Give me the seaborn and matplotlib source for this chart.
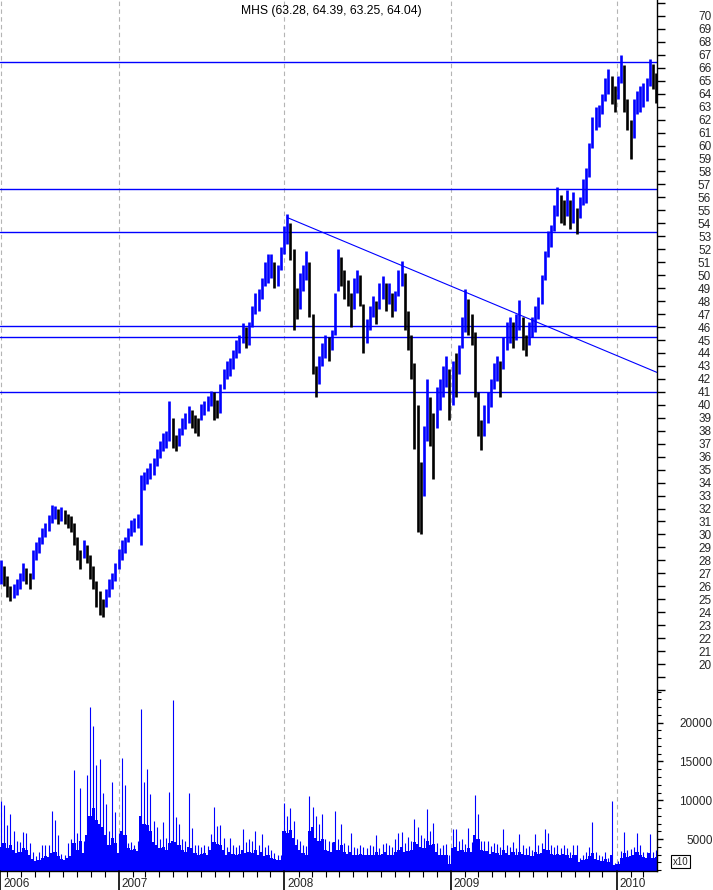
import numpy as np
import pandas as pd
import matplotlib
matplotlib.use("Agg")
import matplotlib.pyplot as plt
import matplotlib.dates as mdates
import matplotlib.ticker as mticker
import matplotlib.transforms as mtransforms
import seaborn as sns

# ---- data (weekly bars) ----
ticker = "MHS"
last_ohlc = [63.28, 64.39, 63.25, 64.04]
first_week = "2006-04-17"

closes = [
    27.5, 26.6, 25.8, 25.3, 25.6, 26.0, 26.4, 27.2, 26.8, 26.3,
    28.3, 28.9, 29.4, 30.0, 30.4, 31.0, 31.6, 31.9, 31.2, 31.6,
    31.4, 31.0, 30.8, 29.8, 28.6, 28.0, 29.0, 28.6, 27.2, 26.2,
    25.0, 24.4, 24.2, 25.2, 25.9, 26.4, 27.2, 28.4, 28.8, 29.3,
    30.0, 30.6, 30.8, 31.2, 33.8, 34.2, 34.6, 35.0, 35.3, 36.0,
    36.6, 37.2, 37.4, 39.6, 37.2, 37.0, 37.6, 38.4, 38.8, 39.2,
    38.8, 38.6, 38.2, 39.6, 39.8, 40.2, 40.6, 40.0, 39.6, 41.0,
    42.4, 42.8, 43.0, 43.6, 44.4, 44.8, 45.6, 45.2, 45.8, 47.0,
    48.0, 48.0, 49.2, 50.0, 50.4, 50.8, 49.8, 50.2, 51.5, 53.0,
    54.0, 52.4, 48.0, 47.2, 49.4, 50.0, 51.0, 47.5, 43.0, 41.5,
    43.0, 44.0, 44.6, 44.4, 45.0, 48.0, 51.0, 50.0, 49.2, 48.4,
    47.4, 49.2, 49.8, 48.4, 45.0, 45.8, 47.0, 47.6, 47.2, 48.8,
    49.2, 48.0, 48.6, 47.4, 48.2, 49.8, 50.4, 46.6, 45.0, 43.0,
    38.0, 34.5, 32.0, 37.0, 39.8, 38.4, 37.2, 40.2, 40.8, 41.8,
    42.6, 41.8, 42.4, 42.0, 43.6, 45.2, 47.8, 46.4, 45.4, 43.0,
    38.4, 37.4, 39.0, 40.0, 41.2, 42.4, 42.8, 42.6, 44.0, 45.4,
    46.0, 45.2, 46.4, 47.0, 45.0, 44.6, 45.6, 46.0, 46.8, 47.6,
    49.5, 51.2, 52.8, 53.0, 54.6, 55.6, 55.0, 54.8, 55.6, 54.6,
    55.0, 54.0, 55.6, 56.6, 57.2, 59.6, 61.6, 62.2, 62.4, 63.2,
    64.4, 65.0, 64.2, 63.8, 64.6, 66.0, 63.6, 62.2, 60.2, 63.0,
    63.4, 63.6, 64.0, 64.4, 66.0, 65.4, 64.04,
]
highs = [
    28.0, 27.6, 26.8, 26.0, 26.2, 26.6, 27.0, 27.8, 27.4, 27.0,
    28.8, 29.4, 29.8, 30.5, 30.9, 31.5, 32.3, 32.2, 32.0, 32.1,
    31.9, 31.6, 31.4, 30.9, 29.8, 28.8, 29.6, 29.2, 28.4, 27.6,
    26.4, 25.6, 25.0, 25.8, 26.6, 27.0, 27.8, 28.9, 29.6, 29.8,
    30.5, 31.1, 31.3, 31.6, 34.6, 34.8, 35.1, 35.5, 35.9, 36.6,
    37.2, 37.8, 38.0, 40.3, 39.0, 37.7, 38.2, 39.0, 39.4, 39.9,
    39.6, 39.2, 39.0, 40.1, 40.3, 40.7, 41.1, 41.0, 40.4, 41.6,
    42.8, 43.4, 43.6, 44.2, 45.0, 45.4, 46.3, 46.0, 46.4, 47.6,
    48.6, 48.9, 49.8, 51.0, 51.6, 51.6, 51.0, 50.8, 52.2, 53.8,
    54.7, 54.0, 52.0, 49.0, 50.2, 50.8, 51.9, 51.0, 47.0, 43.0,
    43.8, 44.8, 45.4, 45.2, 45.8, 48.6, 52.0, 51.4, 50.4, 49.6,
    48.6, 49.8, 50.4, 50.0, 47.8, 46.6, 47.6, 48.4, 48.0, 49.4,
    49.9, 49.4, 49.4, 48.6, 48.8, 50.4, 51.1, 50.2, 47.2, 45.4,
    43.2, 40.0, 35.6, 38.4, 42.0, 40.6, 39.4, 41.4, 42.0, 43.0,
    43.8, 42.8, 43.4, 44.0, 44.6, 46.8, 48.9, 48.2, 47.0, 45.6,
    41.0, 38.8, 40.0, 41.0, 42.0, 43.2, 43.8, 43.4, 45.2, 46.4,
    46.8, 46.4, 47.0, 48.1, 46.8, 45.4, 46.4, 46.8, 47.6, 48.3,
    50.0, 51.9, 53.4, 53.9, 55.4, 56.8, 56.2, 55.8, 56.6, 55.8,
    56.4, 55.2, 56.0, 57.4, 58.3, 60.2, 62.2, 63.0, 63.1, 64.0,
    65.2, 65.9, 65.4, 64.6, 65.4, 67.0, 66.2, 63.6, 62.0, 63.6,
    64.2, 64.6, 64.8, 65.2, 66.7, 66.3, 65.6,
]
lows = [
    26.2, 26.0, 25.2, 24.9, 25.1, 25.3, 25.8, 26.4, 26.2, 25.8,
    26.6, 28.0, 28.6, 29.3, 29.8, 30.3, 30.9, 31.2, 30.8, 31.0,
    30.8, 30.5, 30.2, 29.2, 28.0, 27.3, 28.2, 27.8, 26.6, 25.8,
    24.4, 23.8, 23.6, 24.4, 25.2, 25.8, 26.4, 27.3, 28.0, 28.6,
    29.4, 29.9, 30.2, 30.5, 29.2, 33.4, 33.9, 34.3, 34.6, 35.3,
    35.9, 36.4, 36.7, 37.2, 36.7, 36.4, 36.8, 37.7, 38.1, 38.6,
    38.2, 37.8, 37.6, 38.8, 39.2, 39.5, 39.9, 38.8, 39.0, 39.4,
    41.2, 42.0, 42.2, 42.8, 43.6, 44.0, 44.8, 44.4, 44.6, 46.0,
    47.0, 47.2, 48.2, 49.2, 49.4, 49.8, 49.0, 49.2, 50.4, 51.6,
    52.4, 51.2, 45.8, 46.6, 47.4, 48.8, 49.6, 46.8, 42.4, 40.6,
    41.6, 43.0, 43.6, 43.4, 44.2, 45.4, 48.8, 49.2, 48.2, 47.6,
    46.0, 47.4, 48.6, 47.6, 44.0, 44.8, 45.8, 46.8, 46.2, 47.4,
    48.2, 47.2, 47.8, 46.8, 47.2, 48.4, 49.2, 45.8, 44.2, 42.0,
    36.6, 30.2, 30.0, 33.0, 37.2, 36.8, 34.3, 38.2, 39.6, 40.6,
    41.4, 38.8, 40.0, 40.6, 42.4, 44.4, 45.6, 45.4, 44.6, 40.6,
    37.6, 36.5, 37.6, 38.6, 39.8, 41.2, 41.8, 40.6, 42.8, 44.2,
    44.8, 44.4, 45.0, 45.8, 44.2, 43.8, 44.6, 45.2, 45.6, 46.6,
    47.8, 49.6, 51.4, 52.2, 53.4, 54.6, 54.0, 53.9, 54.6, 53.6,
    54.0, 53.2, 54.4, 55.4, 55.6, 57.6, 59.8, 61.2, 61.4, 62.4,
    63.4, 64.0, 63.2, 62.6, 63.6, 64.8, 62.6, 61.2, 59.0, 60.6,
    62.4, 62.6, 63.0, 63.4, 64.6, 64.4, 63.25,
]
# typical daily volume of the week and the biggest day (x10 shares)
vol_base = [
    4000, 4500, 3800, 4200, 3600, 3200, 3400, 3800, 3600, 3000,
    2400, 2200, 2300, 2600, 2800, 2700, 3200, 3400, 2800, 2400,
    2300, 2600, 2800, 4500, 3600, 4800, 3200, 5500, 8000, 9000,
    7500, 7000, 6500, 5500, 4200, 5200, 4500, 3200, 6000, 5500,
    3800, 3600, 3700, 3500, 8000, 7000, 6800, 6000, 4600, 4200,
    3800, 4000, 3600, 4500, 4800, 4600, 4200, 3600, 3400, 4000,
    3800, 3200, 3000, 3100, 3200, 3000, 3600, 4600, 4400, 4200,
    3600, 3000, 3300, 3100, 2900, 3100, 3600, 3200, 3300, 3200,
    3600, 3000, 3300, 2800, 2900, 2600, 2400, 2300, 2300, 6000,
    5800, 6200, 5200, 4200, 3600, 3200, 3000, 6000, 6500, 5200,
    4800, 5000, 3600, 3500, 3400, 4600, 3600, 4200, 3300, 3100,
    3300, 3000, 2900, 3100, 3000, 2900, 3000, 3000, 3300, 2900,
    3100, 3300, 3000, 2900, 3300, 3600, 4000, 3300, 3500, 3600,
    4600, 4400, 4000, 3800, 4800, 4200, 4400, 3300, 2900, 3000,
    3000, 1800, 3800, 4000, 3500, 3600, 3300, 3800, 3300, 5500,
    5000, 3600, 3500, 3500, 3100, 3300, 3200, 3000, 3600, 3200,
    3000, 3300, 2900, 3400, 3100, 2900, 3000, 2800, 3400, 3100,
    3200, 3700, 3600, 3100, 3000, 3100, 2900, 3100, 2900, 2600,
    3000, 2900, 2100, 2300, 2500, 2800, 3200, 2400, 2300, 2200,
    2400, 2100, 3000, 1700, 1800, 2600, 3200, 2700, 2800, 2900,
    3300, 3000, 2700, 2600, 3200, 2600, 2700,
]
vol_peak = [
    9900, 9400, 6800, 8200, 6100, 4700, 4600, 5900, 5800, 4500,
    3400, 2800, 3300, 4300, 4300, 4200, 8600, 7500, 5500, 3100,
    3000, 4500, 5000, 13900, 5800, 11600, 4800, 13300, 22000, 19600,
    14600, 15300, 10900, 9500, 6000, 12300, 8500, 5800, 15500, 12000,
    4500, 4600, 4200, 4800, 21700, 12400, 14000, 10800, 7300, 6500,
    5000, 7200, 5200, 11100, 22900, 7900, 7000, 5000, 4800, 10900,
    6400, 4300, 4200, 4000, 4300, 4100, 5600, 9200, 6700, 6800,
    5200, 4000, 5100, 4200, 4000, 4300, 6300, 4600, 5000, 4800,
    6100, 4200, 5600, 4000, 4300, 3600, 3200, 2900, 3000, 9600,
    8000, 9000, 7400, 5000, 4800, 4200, 4100, 10600, 9200, 8000,
    7000, 8300, 5000, 4800, 4600, 8600, 5000, 7000, 4500, 4200,
    5800, 4000, 3800, 4300, 4000, 3800, 4200, 4100, 5500, 3900,
    4400, 4500, 4200, 4000, 5000, 5800, 5900, 4500, 5300, 4800,
    7600, 6500, 5500, 5200, 8900, 6000, 7100, 4500, 3800, 4200,
    4400, 3000, 6300, 6300, 4800, 5000, 4400, 6400, 4600, 10700,
    8200, 4800, 4700, 4800, 4100, 4500, 4400, 4000, 6300, 4300,
    4000, 4600, 3800, 5600, 4200, 3900, 4100, 3600, 5600, 4300,
    4500, 6300, 5800, 4300, 4000, 4200, 3800, 4300, 3800, 3400,
    4300, 4200, 2600, 2900, 3300, 4000, 7200, 3300, 3000, 2800,
    3300, 2600, 9900, 1900, 2200, 3500, 5900, 3600, 3700, 4000,
    5800, 4300, 3400, 3300, 5700, 3300, 3600,
]

# drawn support/resistance levels and the falling trend line
levels = [66.47, 56.65, 53.35, 46.1, 45.2, 41.0]
trend_dates = ["2008-01-07", "2010-03-31"]
trend_prices = [54.45, 42.5]

year_labels = ["2006", "2007", "2008", "2009", "2010"]
year_starts = ["2007-01-01", "2008-01-01", "2009-01-01", "2010-01-01"]
x_range = ["2006-04-15", "2010-03-31"]

assert len(closes) == len(highs) == len(lows) == len(vol_base) == len(vol_peak)

weeks = pd.date_range(first_week, periods=len(closes), freq="7D")
df = pd.DataFrame({"date": weeks, "close": closes, "high": highs, "low": lows,
                   "vol": vol_base, "peak": vol_peak})
df["up"] = df["close"] >= df["close"].shift(1).fillna(df["close"].iloc[0])

BLUE = "#0000ff"

sns.set_theme(style="white")
plt.rcParams["font.family"] = ["Liberation Sans", "DejaVu Sans"]

fig = plt.figure(figsize=(7.13, 8.90), dpi=100)
ax = fig.add_axes([0, 200 / 890, 657 / 713, 690 / 890])
axv = fig.add_axes([0, 19 / 890, 657 / 713, 181 / 890], sharex=ax)

x0, x1 = pd.to_datetime(x_range)
ax.set_xlim(x0, x1)

# year separators (dashed)
for d in [df["date"].iloc[0]] + list(pd.to_datetime(year_starts)):
    for a in (ax, axv):
        a.axvline(d, color="#b4b4b4", lw=0.8, ls=(0, (4, 3)), zorder=0)

# price bars
bar_colors = [BLUE if u else "black" for u in df["up"]]
ax.vlines(df["date"], df["low"], df["high"], colors=bar_colors, lw=1.9, zorder=3)

for lv in levels:
    ax.axhline(lv, color=BLUE, lw=1.0, zorder=2)
sns.lineplot(x=pd.to_datetime(trend_dates), y=trend_prices, ax=ax,
             color=BLUE, lw=0.8, zorder=2)

ax.set_ylim(18.23, 71.23)
ax.yaxis.set_ticks_position("right")
yt = list(range(18, 72))
ax.set_yticks(yt)
ax.set_yticklabels([str(v) if 20 <= v <= 70 else "" for v in yt])
ax.tick_params(axis="y", length=6, width=1, color="black", direction="out",
               pad=33, labelsize=8.5, right=True, left=False)
for lab in ax.get_yticklabels():
    lab.set_horizontalalignment("right")
ax.tick_params(axis="x", which="both", bottom=False, labelbottom=False)
for side in ["left", "top", "bottom"]:
    ax.spines[side].set_visible(False)
ax.spines["right"].set_color("black")
ax.spines["right"].set_linewidth(1)
ax.set_xlabel("")
ax.set_ylabel("")

title = f"{ticker} ({last_ohlc[0]:.2f}, {last_ohlc[1]:.2f}, {last_ohlc[2]:.2f}, {last_ohlc[3]:.2f})"
ax.text(0.505, 0.984, title, transform=ax.transAxes, ha="center", va="center",
        fontsize=8.7, color="black")

# volume panel
axv.bar(df["date"], df["vol"], width=7, color=BLUE, linewidth=0, zorder=2)
axv.vlines(df["date"], 0, df["peak"], colors=BLUE, lw=0.8, zorder=2)
axv.set_ylim(900, 24200)
axv.yaxis.set_ticks_position("right")
axv.set_yticks([5000, 10000, 15000, 20000])
axv.yaxis.set_minor_locator(mticker.MultipleLocator(1000))
axv.tick_params(axis="y", which="major", length=4, width=1, color="black",
                direction="out", pad=36, labelsize=8.5, right=True, left=False)
axv.tick_params(axis="y", which="minor", length=3, width=0.8, color="black",
                direction="out", right=True, left=False)
for lab in axv.get_yticklabels():
    lab.set_horizontalalignment("right")
for side in ["left", "top"]:
    axv.spines[side].set_visible(False)
for side in ["right", "bottom"]:
    axv.spines[side].set_color("black")
    axv.spines[side].set_linewidth(1)

# x axis: year labels and month ticks
year_pos = [x0] + list(pd.to_datetime(year_starts))
axv.set_xticks(year_pos)
axv.set_xticklabels(year_labels)
axv.xaxis.set_minor_locator(mdates.MonthLocator())
axv.tick_params(axis="x", which="major", length=0, pad=5, labelsize=8.5)
axv.tick_params(axis="x", which="minor", length=4, width=0.8, color="black",
                direction="out", bottom=True)
shift = mtransforms.ScaledTranslation(3 / 100, 0, fig.dpi_scale_trans)
for lab in axv.get_xticklabels():
    lab.set_horizontalalignment("left")
    lab.set_transform(lab.get_transform() + shift)
blend = mtransforms.blended_transform_factory(axv.transData, axv.transAxes)
for d in year_pos:
    axv.plot([d, d], [0, -0.105], transform=blend, clip_on=False,
             color="black", lw=1.2)

axv.text(1.036, 0.05, "x10", transform=axv.transAxes, ha="center", va="center",
         fontsize=7, clip_on=False,
         bbox=dict(boxstyle="square,pad=0.15", fc="white", ec="black", lw=0.8))
axv.set_xlabel("")
axv.set_ylabel("")

fig.savefig("out.png", dpi=100, facecolor="white")
